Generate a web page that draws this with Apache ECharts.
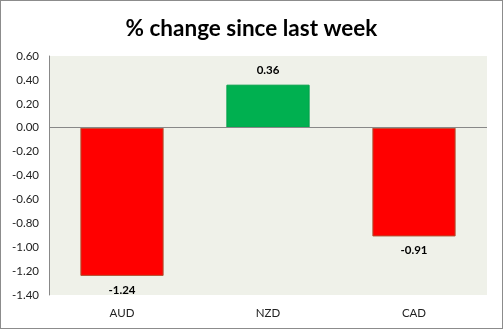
<!DOCTYPE html>
<html><head><meta charset="utf-8">
<script src="https://cdn.jsdelivr.net/npm/echarts@6/dist/echarts.min.js"></script>
<style>html,body{margin:0;padding:0;background:#fff}#c{width:503px;height:329px;box-sizing:border-box;border:1px solid #8c8c8c}</style>
</head><body><div id="c"></div>
<script>
const categories = ['AUD', 'NZD', 'CAD'];
const values = [-1.24, 0.36, -0.91];
const yTicks = { min: -1.4, max: 0.6, interval: 0.2 };
const chart = echarts.init(document.getElementById('c'));
const font = 'Lato, "Open Sans", sans-serif';
chart.setOption({
  animation: false,
  title: { text: '% change since last week', left: 'center', top: 11,
    textStyle: { fontFamily: font, fontSize: 22.5, fontWeight: 'bold', color: '#000' } },
  grid: { left: 48, right: 15, top: 55, bottom: 33, show: true, backgroundColor: '#eff1e9', borderWidth: 0 },
  xAxis: { type: 'category', data: categories, position: 'bottom',
    axisLine: { show: false }, axisTick: { show: false },
    axisLabel: { fontFamily: font, fontSize: 11.5, color: '#222', margin: 12 } },
  yAxis: { type: 'value', min: yTicks.min, max: yTicks.max, interval: yTicks.interval,
    splitLine: { show: false },
    axisLine: { show: true, lineStyle: { color: '#888' } }, axisTick: { show: false },
    axisLabel: { fontFamily: font, fontSize: 11.5, color: '#222', margin: 10, formatter: v => v.toFixed(2) } },
  series: [{
    type: 'bar', barWidth: '57%',
    data: values.map(v => ({ value: v,
      itemStyle: { color: v >= 0 ? '#00b050' : '#ff0000', borderColor: v >= 0 ? '#00a048' : '#b05030', borderWidth: 1 },
      label: { show: true, position: v >= 0 ? 'top' : 'bottom', formatter: p => p.value.toFixed(2),
        fontFamily: font, fontSize: 11.5, fontWeight: 'bold', color: '#000', distance: 8 } })),
    markLine: { silent: true, symbol: 'none', label: { show: false },
      lineStyle: { color: '#888', type: 'solid', width: 1 }, data: [{ yAxis: 0 }] }
  }]
});
</script></body></html>
